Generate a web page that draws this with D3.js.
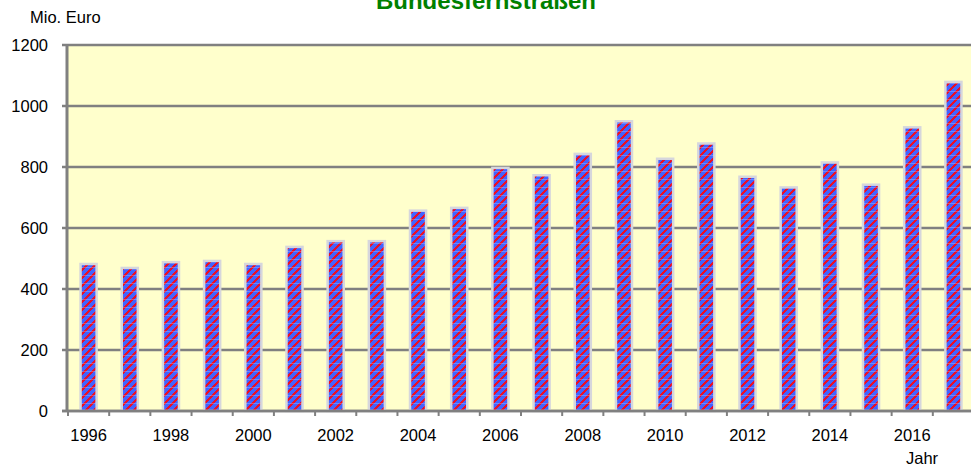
<!DOCTYPE html>
<html>
<head>
<meta charset="utf-8">
<script src="https://cdn.jsdelivr.net/npm/d3@7"></script>
<style>
  body { margin: 0; background: #fff; }
  svg { display: block; font-family: "Liberation Sans", Arial, sans-serif; }
</style>
</head>
<body>
<div id="chart"></div>
<script>
var years = ["1996","1997","1998","1999","2000","2001","2002","2003","2004","2005","2006",
             "2007","2008","2009","2010","2011","2012","2013","2014","2015","2016","2017"];
var values = [482, 469, 488, 492, 482, 538, 557, 557, 657, 666, 797,
              773, 843, 950, 827, 877, 768, 733, 815, 742, 930, 1079];
var yTicks = [0, 200, 400, 600, 800, 1000, 1200];
var xLabelYears = ["1996","1998","2000","2002","2004","2006","2008","2010","2012","2014","2016"];

var width = 971, height = 467;
var plotLeft = 67, plotRight = 974, plotTop = 45, plotBottom = 411;

var svg = d3.select("#chart").append("svg")
    .attr("width", width)
    .attr("height", height);

// bar fill pattern: blue with red diagonal stripes and faint horizontal lines
var pat = svg.append("defs").append("pattern")
    .attr("id", "stripes")
    .attr("patternUnits", "userSpaceOnUse")
    .attr("width", 8)
    .attr("height", 8);
pat.append("rect").attr("width", 8).attr("height", 8).attr("fill", "#4263ff");
pat.append("path")
    .attr("d", "M-2,2 L2,-2 M0,8 L8,0 M6,10 L10,6")
    .attr("stroke", "#e8102a")
    .attr("stroke-width", 2.2)
    .attr("shape-rendering", "crispEdges");
pat.append("line")
    .attr("x1", 0).attr("x2", 8).attr("y1", 3.5).attr("y2", 3.5)
    .attr("stroke", "rgba(190,200,255,0.35)")
    .attr("stroke-width", 1)
    .attr("shape-rendering", "crispEdges");

var x = d3.scaleBand()
    .domain(years)
    .range([plotLeft + 1, plotRight])
    .paddingInner(0.61)
    .paddingOuter(0.305);

var y = d3.scaleLinear()
    .domain([0, 1200])
    .range([plotBottom, plotTop]);

// plot background
svg.append("rect")
    .attr("x", plotLeft)
    .attr("y", plotTop)
    .attr("width", plotRight - plotLeft)
    .attr("height", plotBottom - plotTop)
    .attr("fill", "#ffffcc");

// gridlines
svg.append("g")
    .selectAll("line")
    .data(yTicks)
    .enter()
    .append("line")
    .attr("x1", plotLeft - 5)
    .attr("x2", plotRight)
    .attr("y1", function (d) { return y(d); })
    .attr("y2", function (d) { return y(d); })
    .attr("stroke", "#808080")
    .attr("stroke-width", 2.5);

// bars
svg.append("g")
    .selectAll("rect")
    .data(values)
    .enter()
    .append("rect")
    .attr("x", function (d, i) { return x(years[i]); })
    .attr("y", function (d) { return y(d); })
    .attr("width", x.bandwidth())
    .attr("height", function (d) { return y(0) - y(d); })
    .attr("fill", "url(#stripes)")
    .attr("stroke", "#d6d6dc")
    .attr("stroke-width", 2.5);

// zero line and left axis on top
svg.append("line")
    .attr("x1", plotLeft - 5).attr("x2", plotRight)
    .attr("y1", plotBottom).attr("y2", plotBottom)
    .attr("stroke", "#808080").attr("stroke-width", 2.5);
svg.append("line")
    .attr("x1", plotLeft).attr("x2", plotLeft)
    .attr("y1", plotTop - 1).attr("y2", plotBottom + 1)
    .attr("stroke", "#808080").attr("stroke-width", 3);

// x ticks at category boundaries
var step = x.step();
svg.append("g")
    .selectAll("line")
    .data(years)
    .enter()
    .append("line")
    .attr("x1", function (d) { return x(d) - x.paddingOuter() * step; })
    .attr("x2", function (d) { return x(d) - x.paddingOuter() * step; })
    .attr("y1", plotBottom)
    .attr("y2", plotBottom + 5)
    .attr("stroke", "#808080")
    .attr("stroke-width", 2);

// y labels
svg.append("g")
    .selectAll("text")
    .data(yTicks)
    .enter()
    .append("text")
    .attr("x", 48)
    .attr("y", function (d) { return y(d) + 6; })
    .attr("text-anchor", "end")
    .style("font-size", "16.5px")
    .text(function (d) { return d; });

// x labels
svg.append("g")
    .selectAll("text")
    .data(xLabelYears)
    .enter()
    .append("text")
    .attr("x", function (d) { return x(d) + x.bandwidth() / 2; })
    .attr("y", 441)
    .attr("text-anchor", "middle")
    .style("font-size", "16.5px")
    .text(function (d) { return d; });

svg.append("text")
    .attr("x", 30)
    .attr("y", 23)
    .style("font-size", "16.5px")
    .text("Mio. Euro");

svg.append("text")
    .attr("x", 906)
    .attr("y", 464)
    .style("font-size", "16.5px")
    .text("Jahr");

svg.append("text")
    .attr("x", 486)
    .attr("y", 9)
    .attr("text-anchor", "middle")
    .style("font-size", "24px")
    .style("font-weight", "bold")
    .style("fill", "#008000")
    .text("Bundesfernstraßen");
</script>
</body>
</html>
